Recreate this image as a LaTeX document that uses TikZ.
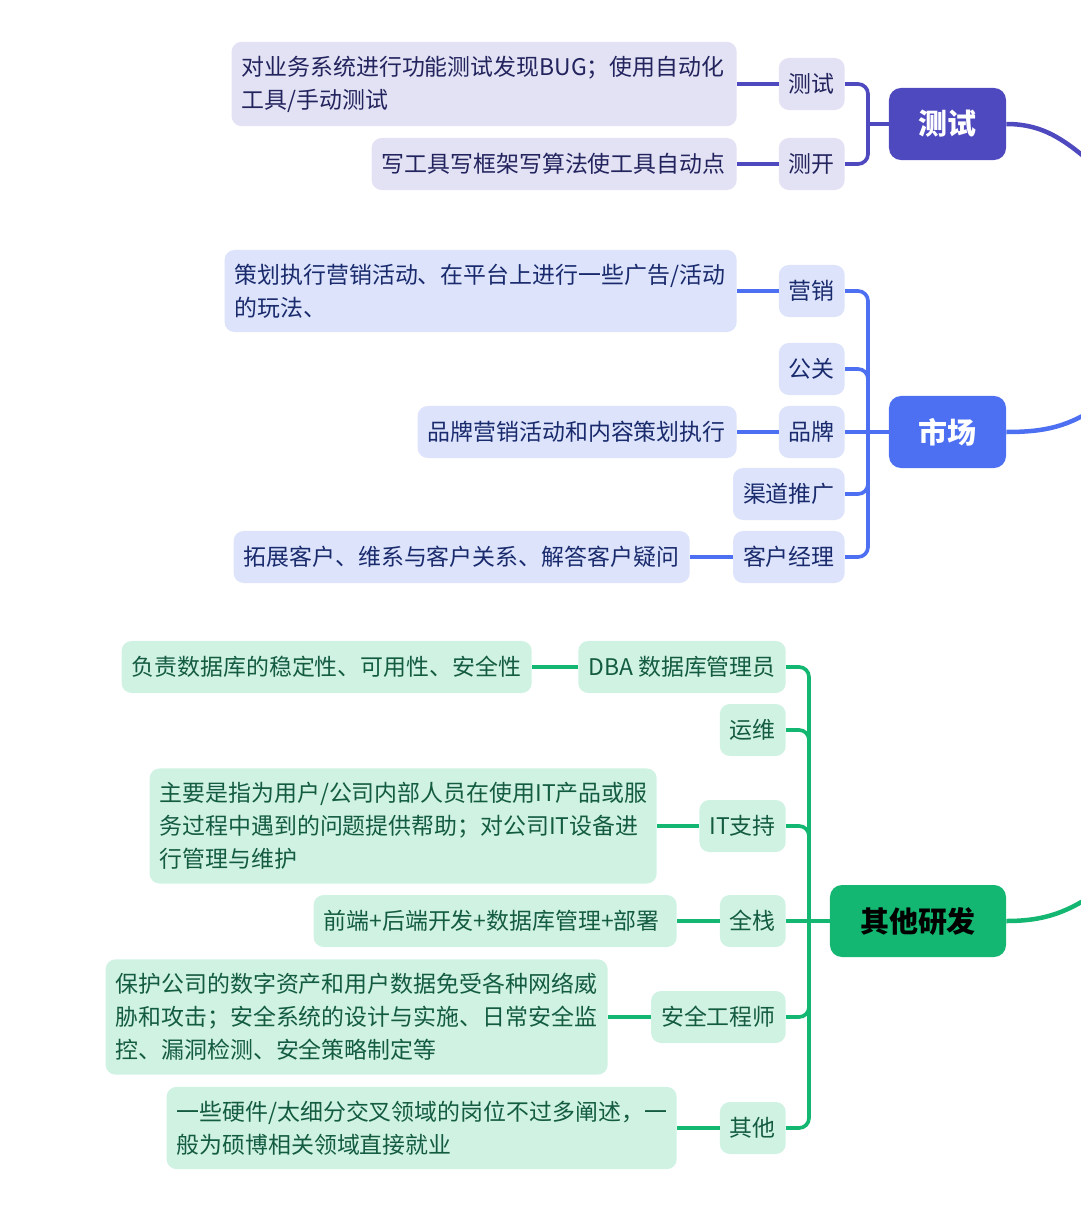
\documentclass[tikz,border=0pt]{standalone}
\usepackage{fontspec}
\setmainfont{Noto Sans CJK SC}
\usepackage{xcolor}
\definecolor{testdark}{HTML}{4E49BE}
\definecolor{testlight}{HTML}{E2E2F4}
\definecolor{testtext}{HTML}{23235E}
\definecolor{mktdark}{HTML}{4D70F2}
\definecolor{mktlight}{HTML}{DCE3FB}
\definecolor{mkttext}{HTML}{1A2B6D}
\definecolor{grndark}{HTML}{14B771}
\definecolor{grnlight}{HTML}{D0F2E3}
\definecolor{grntext}{HTML}{145C41}
\tikzstyle{leaf} = [rounded corners=0.25cm, inner xsep=0.25cm, inner ysep=0.35cm, minimum height=1.3cm, align=left, anchor=east, font=\fontsize{16.3pt}{23.4pt}\selectfont]
\tikzstyle{subbox} = [rounded corners=0.25cm, inner xsep=0.25cm, minimum height=1.3cm, anchor=east, font=\fontsize{16.3pt}{23.4pt}\selectfont]
\tikzstyle{mainbox} = [rounded corners=0.3cm, minimum width=2.925cm, minimum height=1.8cm, font=\fontsize{20.6pt}{24pt}\selectfont\bfseries]
\tikzstyle{twig} = [line width=2.6pt]
\tikzstyle{branch} = [line width=2.6pt, rounded corners=0.25cm]
\tikzstyle{trunk} = [line width=3.2pt]

\begin{document}
\begin{tikzpicture}[x=0.025cm,y=-0.025cm]
	\useasboundingbox (0,0) rectangle (1080,1208);
	% 测试
	\node[mainbox, fill=testdark, text=white] (test) at (947.5,124) {测试};
	\node[subbox, fill=testlight, text=testtext] (t-qa) at (845,84) {测试};
	\node[subbox, fill=testlight, text=testtext] (t-dev) at (845,164) {测开};
	\node[leaf, fill=testlight, text=testtext, text width=12.125cm] (t-qa-d) at (737,84) {对业务系统进行功能测试发现BUG；使用自动化\\工具/手动测试};
	\node[leaf, fill=testlight, text=testtext, text width=8.625cm] (t-dev-d) at (737,164) {写工具写框架写算法使工具自动点};
	\coordinate (t-bus) at (868,124);
	\coordinate (t-out) at (1100,170);
	\draw[twig, testdark] (t-qa.west) -- (t-qa-d.east);
	\draw[twig, testdark] (t-dev.west) -- (t-dev-d.east);
	\draw[branch, testdark] (t-qa.east) -| (t-bus);
	\draw[branch, testdark] (t-dev.east) -| (t-bus);
	\draw[twig, testdark] (t-bus) -- (test.west);
	\draw[trunk, testdark] (test.east) to[out=0, in=140] (t-out);

	% 市场
	\node[mainbox, fill=mktdark, text=white] (mkt) at (947.5,432) {市场};
	\node[subbox, fill=mktlight, text=mkttext] (m-ad) at (845,291) {营销};
	\node[subbox, fill=mktlight, text=mkttext] (m-pr) at (845,369) {公关};
	\node[subbox, fill=mktlight, text=mkttext] (m-brand) at (845,432) {品牌};
	\node[subbox, fill=mktlight, text=mkttext] (m-chan) at (845,494) {渠道推广};
	\node[subbox, fill=mktlight, text=mkttext] (m-acct) at (845,557) {客户经理};
	\node[leaf, fill=mktlight, text=mkttext, text width=12.3cm] (m-ad-d) at (737,291) {策划执行营销活动、在平台上进行一些广告/活动\\的玩法、};
	\node[leaf, fill=mktlight, text=mkttext, text width=7.475cm] (m-brand-d) at (737,432) {品牌营销活动和内容策划执行};
	\node[leaf, fill=mktlight, text=mkttext, text width=10.9cm] (m-acct-d) at (690,557) {拓展客户、维系与客户关系、解答客户疑问};
	\coordinate (m-bus) at (868,432);
	\coordinate (m-out) at (1100,405);
	\draw[twig, mktdark] (m-ad.west) -- (m-ad-d.east);
	\draw[twig, mktdark] (m-brand.west) -- (m-brand-d.east);
	\draw[twig, mktdark] (m-acct.west) -- (m-acct-d.east);
	\foreach \s in {m-ad, m-pr, m-chan, m-acct}
		\draw[branch, mktdark] (\s.east) -| (m-bus);
	\draw[twig, mktdark] (m-brand.east) -- (mkt.west);
	\draw[trunk, mktdark] (mkt.east) to[out=0, in=-145] (m-out);

	% 其他研发
	\node[mainbox, fill=grndark, text=black, minimum width=4.4cm] (rd) at (918,921) {其他研发};
	\node[subbox, fill=grnlight, text=grntext] (g-dba) at (786,667) {DBA 数据库管理员};
	\node[subbox, fill=grnlight, text=grntext] (g-ops) at (786,730) {运维};
	\node[subbox, fill=grnlight, text=grntext] (g-it) at (786,826) {IT支持};
	\node[subbox, fill=grnlight, text=grntext] (g-full) at (786,921) {全栈};
	\node[subbox, fill=grnlight, text=grntext] (g-sec) at (786,1017) {安全工程师};
	\node[subbox, fill=grnlight, text=grntext] (g-misc) at (786,1128) {其他};
	\node[leaf, fill=grnlight, text=grntext, text width=9.75cm] (g-dba-d) at (532,667) {负责数据库的稳定性、可用性、安全性};
	\node[leaf, fill=grnlight, text=grntext, text width=12.175cm] (g-it-d) at (657,826) {主要是指为用户/公司内部人员在使用IT产品或服\\务过程中遇到的问题提供帮助；对公司IT设备进\\行管理与维护};
	\node[leaf, fill=grnlight, text=grntext, text width=8.575cm] (g-full-d) at (677,921) {前端+后端开发+数据库管理+部署};
	\node[leaf, fill=grnlight, text=grntext, text width=12.05cm] (g-sec-d) at (608,1017) {保护公司的数字资产和用户数据免受各种网络威\\胁和攻击；安全系统的设计与实施、日常安全监\\控、漏洞检测、安全策略制定等};
	\node[leaf, fill=grnlight, text=grntext, text width=12.25cm] (g-misc-d) at (677,1128) {一些硬件/太细分交叉领域的岗位不过多阐述，一\\般为硕博相关领域直接就业};
	\coordinate (g-bus) at (809,921);
	\coordinate (g-out) at (1100,890);
	\foreach \s in {g-dba, g-it, g-full, g-sec, g-misc}
		\draw[twig, grndark] (\s.west) -- (\s-d.east);
	\foreach \s in {g-dba, g-ops, g-it, g-sec, g-misc}
		\draw[branch, grndark] (\s.east) -| (g-bus);
	\draw[twig, grndark] (g-full.east) -- (rd.west);
	\draw[trunk, grndark] (rd.east) to[out=0, in=-145] (g-out);
\end{tikzpicture}
\end{document}
